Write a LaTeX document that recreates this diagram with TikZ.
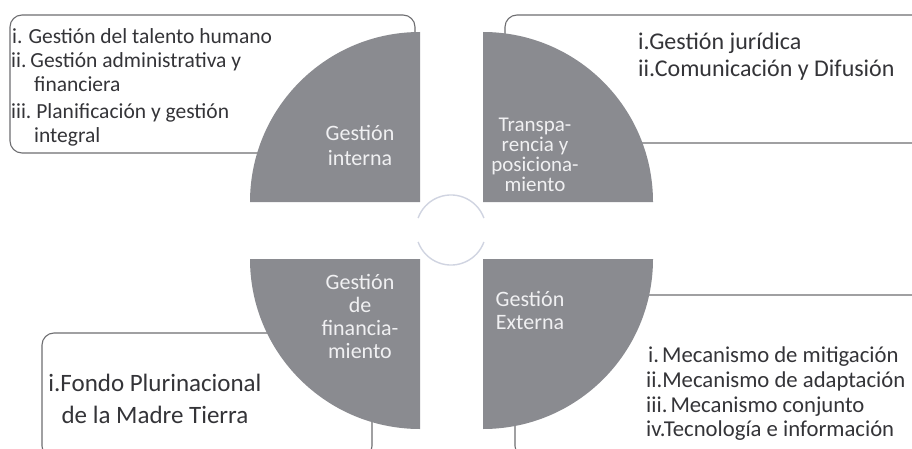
\documentclass[tikz,border=0pt]{standalone}
\usepackage{fontspec}
\setmainfont{Carlito}
\definecolor{quad}{RGB}{138,139,144}
\definecolor{txt}{RGB}{52,52,56}
\definecolor{qtxt}{RGB}{240,240,242}
\definecolor{boxline}{RGB}{110,110,113}
\definecolor{ring}{RGB}{208,212,225}
\begin{document}
\begin{tikzpicture}[x=1pt,y=-1pt]
\tikzset{
  listbox/.style={draw=boxline, line width=1.1pt, rounded corners=12pt},
  quadrant/.style={fill=quad},
  item/.style={anchor=west, inner sep=0pt, text=txt, text height=0.8em, text depth=0.14em},
  qlabel/.style={inner sep=0pt, text=qtxt, align=center},
  ringarc/.style={draw=ring, line width=1.4pt}
}
\useasboundingbox (0,0) rectangle (912,449);
\fill[white] (0,0) rectangle (912,449);
\clip (0,0) rectangle (912,449);

% list boxes (behind the quadrants)
\draw[listbox] (10,15) rectangle (415,153);
\draw[listbox] (505,15) rectangle (1000,143);
\draw[listbox] (42,333) rectangle (372,458);
\draw[listbox] (515,295) rectangle (1000,458);

% quadrants
\fill[quadrant] (420,202) -- (250,202) arc[start angle=180, end angle=270, radius=170] -- cycle;
\fill[quadrant] (483,202) -- (483,32) arc[start angle=270, end angle=360, radius=170] -- cycle;
\fill[quadrant] (420,259) -- (250,259) arc[start angle=180, end angle=90, radius=170] -- cycle;
\fill[quadrant] (483,259) -- (653,259) arc[start angle=0, end angle=90, radius=170] -- cycle;

% faint central ring
\draw[ringarc] (418.1,218) arc[start angle=200, end angle=340, radius=35];
\draw[ringarc] (483.9,242) arc[start angle=20, end angle=160, radius=35];

% quadrant labels
\node[qlabel, font=\fontsize{22}{25}\selectfont] (lint) at (360,145) {Gestión\\interna};
\node[qlabel, font=\fontsize{21}{20}\selectfont] (ltra) at (535,155) {Transpa-\\rencia y\\posiciona-\\miento};
\node[qlabel, font=\fontsize{22}{23}\selectfont] (lfin) at (360,316) {Gestión\\de\\financia-\\miento};
\node[qlabel, font=\fontsize{22}{23}\selectfont] (lext) at (530,310) {Gestión\\Externa};

% top-left list
\begin{scope}[every node/.append style={font=\fontsize{21.5}{25}\selectfont}]
\node[item] (tl1) at (12,40) {i.\hspace{6pt}Gestión del talento humano};
\node[item] (tl2) at (11,64) {ii.\hspace{4pt}Gestión administrativa y};
\node[item] (tl3) at (34,88) {financiera};
\node[item] (tl4) at (11,115) {iii.\hspace{5pt}Planificación y gestión};
\node[item] (tl5) at (34,139) {integral};
\end{scope}

% top-right list
\begin{scope}[every node/.append style={font=\fontsize{24}{27}\selectfont}]
\node[item] (tr1) at (638,46) {i.Gestión jurídica};
\node[item] (tr2) at (638,73) {ii.Comunicación y Difusión};
\end{scope}

% bottom-left list
\node[inner sep=0pt, text=txt, align=center, font=\fontsize{25}{32}\selectfont] (bl1) at (155,399) {i.Fondo Plurinacional\\de la Madre Tierra};

% bottom-right list
\begin{scope}[every node/.append style={font=\fontsize{22.7}{25}\selectfont}]
\node[item] (br1) at (648,359) {i.\hspace{3pt}Mecanismo de mitigación};
\node[item] (br2) at (646,384) {ii.Mecanismo de adaptación};
\node[item] (br3) at (646,409) {iii.\hspace{3pt}Mecanismo conjunto};
\node[item] (br4) at (646,433) {iv.Tecnología e información};
\end{scope}
\end{tikzpicture}
\end{document}
